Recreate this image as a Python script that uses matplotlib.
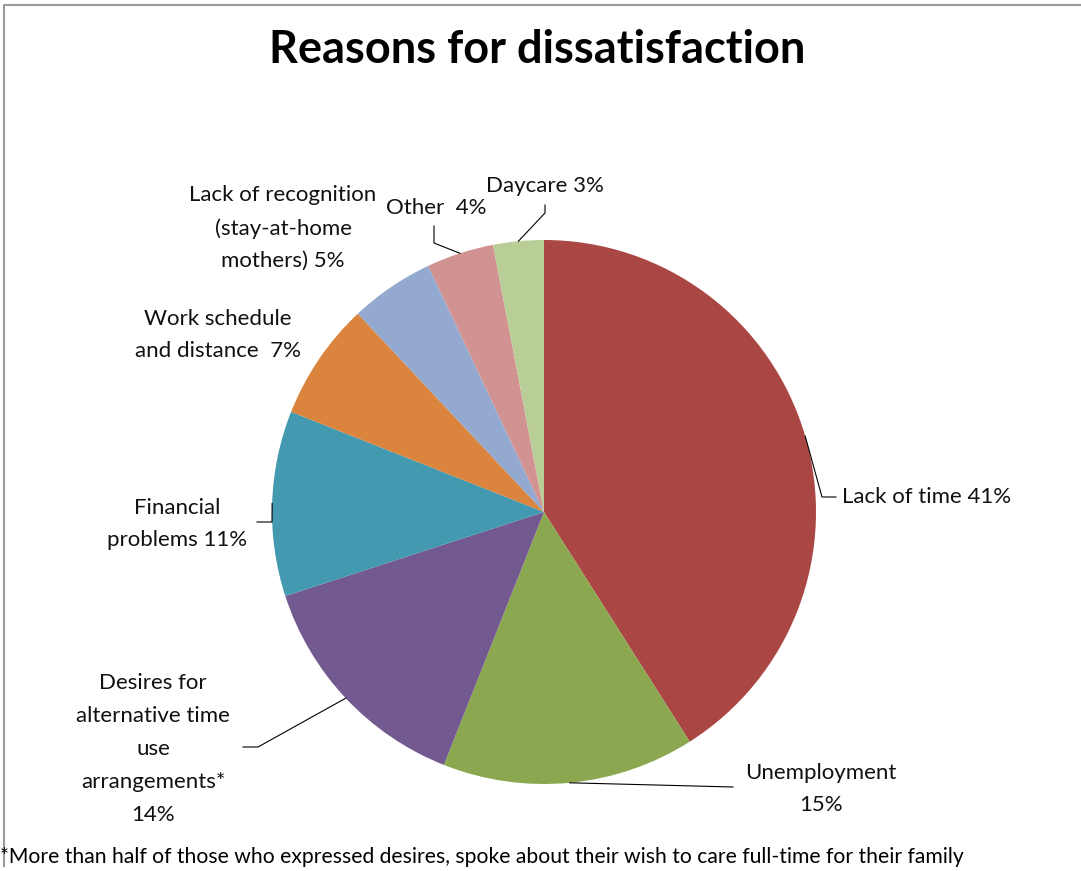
import matplotlib
matplotlib.use("Agg")
import matplotlib.pyplot as plt
import numpy as np

plt.rcParams['font.family'] = ['Lato', 'DejaVu Sans']

# shares of each reason, clockwise from 12 o'clock
reasons = ["Lack of time", "Unemployment",
           "Desires for alternative time use arrangements*",
           "Financial problems", "Work schedule and distance",
           "Lack of recognition (stay-at-home mothers)", "Other", "Daycare"]
shares = [41, 15, 14, 11, 7, 5, 4, 3]
colors = ["#AA4744", "#8BA74F", "#725990", "#4299B0",
          "#DB843D", "#93A9D0", "#D19392", "#B9CE96"]

label_texts = ["Lack of time {}%",
               "Unemployment\n{}%",
               "Desires for\nalternative time\nuse\narrangements*\n{}%",
               "Financial\nproblems {}%",
               "Work schedule\nand distance  {}%",
               "Lack of recognition\n(stay-at-home\nmothers) {}%",
               "Other  {}%",
               "Daycare {}%"]

# label anchor (pixels) and leader elbow points
label_pos = [(842, 497, 'left'), (821, 789, 'center'), (153, 749, 'center'),
             (177, 524, 'center'), (218, 335, 'center'), (283, 228, 'center'),
             (436, 208, 'center'), (545, 186, 'center')]
leaders = [[(822, 497), (836, 497)],
           [(733, 787)],
           [(258, 747), (243, 747)],
           [(272, 522), (257, 522)],
           None,
           None,
           [(434, 243), (434, 226)],
           [(545, 213), (545, 205)]]

W, H = 1081, 871
fig = plt.figure(figsize=(W / 100, H / 100), dpi=100)
ax = fig.add_axes([0, 0, 1, 1])

cx, cy, r = 544, 512, 272
wedges, _ = ax.pie(shares, colors=colors, startangle=-90, counterclock=True,
                   center=(cx, cy), radius=r, frame=True,
                   wedgeprops=dict(linewidth=0))
ax.set_xlim(0, W)
ax.set_ylim(H, 0)
ax.axis('off')

for w, val, fmt, (lx, ly, ha), pts in zip(wedges, shares, label_texts,
                                           label_pos, leaders):
    ax.text(lx, ly, fmt.format(val), ha=ha, va='center', fontsize=16,
            linespacing=1.8, color='#111111')
    if pts is None:
        continue
    mid = np.deg2rad((w.theta1 + w.theta2) / 2)
    ex, ey = cx + r * np.cos(mid), cy + r * np.sin(mid)
    xs = [ex] + [p[0] for p in pts]
    ys = [ey] + [p[1] for p in pts]
    ax.plot(xs, ys, color='black', lw=0.8)

ax.text(537, 50, "Reasons for dissatisfaction", ha='center', va='center',
        fontsize=32.5, fontweight='bold')

ax.text(0, 857, "*More than half of those who expressed desires, spoke about "
        "their wish to care full-time for their family", ha='left',
        va='center', fontsize=15.2)

# chart frame
ax.plot([4, 4, W], [866, 5, 5], color='#9a9a9a', lw=1.5, clip_on=False)

fig.savefig("out.png", dpi=100)
